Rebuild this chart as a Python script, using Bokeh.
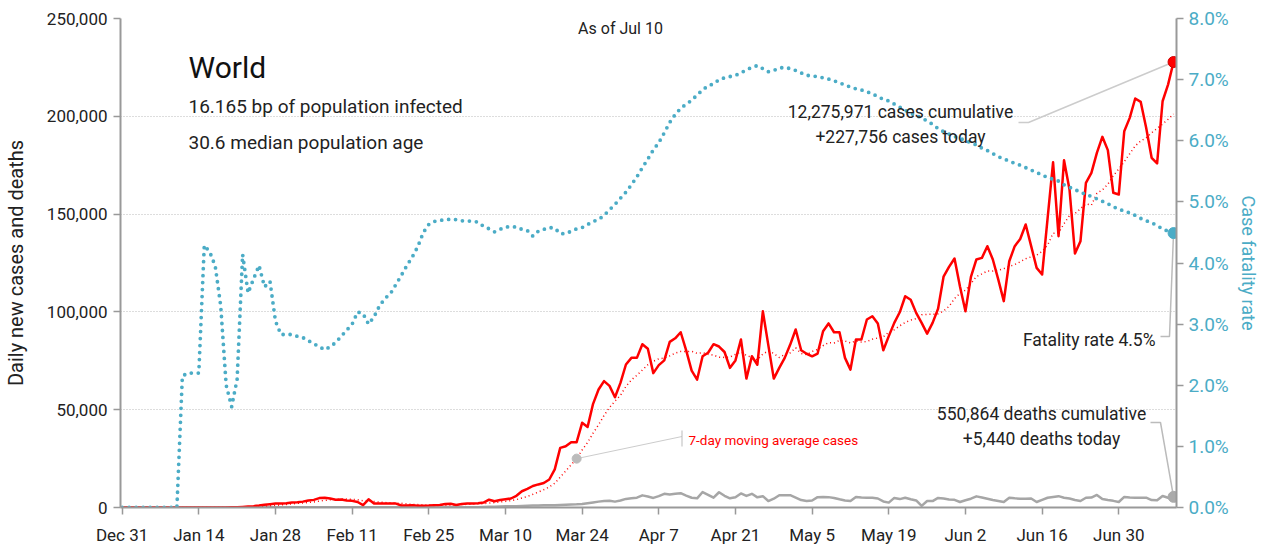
import numpy as np
import pandas as pd
from bokeh.plotting import figure
from bokeh.models import (Range1d, LinearAxis, FixedTicker, NumeralTickFormatter,
                          PrintfTickFormatter, Label, ColumnDataSource)
from bokeh.embed import file_html
from bokeh.resources import INLINE

# ---------------- data (days since Dec 31, 2019) ----------------
tick_days = [0, 14, 28, 42, 56, 70, 84, 98, 112, 126, 140, 154, 168, 182]
tick_labels = ["Dec 31", "Jan 14", "Jan 28", "Feb 11", "Feb 25", "Mar 10", "Mar 24",
               "Apr 7", "Apr 21", "May 5", "May 19", "Jun 2", "Jun 16", "Jun 30"]

# daily new cases, thousands
cases_k = [
    0, 0, 0, 0, 0, 0, 0, 0, 0, 0,
    0, 0, 0, 0, 0, 0, 0, 0, 0, 0,
    0.1, 0.15, 0.3, 0.5, 0.7, 1.0, 1.4, 1.7, 2.0, 2.0,
    2.2, 2.6, 2.7, 3.0, 3.6, 3.9, 4.8, 5.0, 4.6, 4.0,
    4.1, 3.6, 3.4, 2.8, 1.2, 4.2, 2.0, 2.0, 2.1, 2.1,
    2.0, 1.0, 1.0, 1.2, 0.9, 0.9, 1.0, 1.2, 1.3, 1.8,
    1.9, 1.3, 1.8, 2.1, 2.0, 2.2, 2.5, 4.0, 3.2, 3.8,
    4.2, 4.6, 6.0, 8.3, 9.5, 11.0, 11.8, 12.5, 14.3, 19.5,
    30.5, 31.3, 33.4, 33.4, 43.3, 41.2, 53.0, 60.3, 64.6, 62.2,
    56.4, 63.7, 73.1, 76.5, 76.5, 83.5, 81.2, 68.7, 72.8, 75.2,
    84.7, 86.5, 89.6, 80.3, 70.0, 65.4, 77.3, 79.1, 83.5, 82.3,
    79.5, 71.4, 75.2, 85.9, 65.9, 77.3, 73.0, 100.3, 83.0, 65.9,
    71.4, 76.5, 83.3, 91.0, 80.4, 78.6, 77.3, 78.7, 90.1, 94.1,
    89.6, 89.6, 76.5, 70.5, 85.9, 85.9, 96.1, 97.8, 94.1, 80.4,
    87.6, 94.4, 99.8, 108.0, 106.2, 99.5, 94.4, 88.9, 94.4, 101.6,
    118.0, 123.0, 127.3, 113.0, 100.3, 117.9, 126.8, 127.6, 133.6, 126.8,
    116.5, 105.5, 125.9, 133.6, 137.3, 144.7, 133.6, 122.5, 119.1, 147.8,
    176.5, 138.7, 177.5, 162.6, 129.8, 136.1, 166.0, 171.1, 181.3, 189.5,
    182.7, 160.9, 160.0, 192.4, 199.2, 209.1, 207.4, 194.1, 178.8, 175.9,
    207.7, 216.2, 227.756,
]

# daily new deaths, thousands
deaths_k = [
    0, 0, 0, 0, 0, 0, 0, 0, 0, 0,
    0, 0, 0, 0, 0, 0, 0, 0, 0, 0,
    0.02, 0.03, 0.04, 0.05, 0.05, 0.06, 0.07, 0.08, 0.09, 0.1,
    0.1, 0.1, 0.1, 0.1, 0.1, 0.1, 0.12, 0.12, 0.1, 0.1,
    0.1, 0.1, 0.1, 0.1, 0.1, 0.14, 0.1, 0.1, 0.1, 0.1,
    0.1, 0.1, 0.1, 0.05, 0.05, 0.06, 0.06, 0.06, 0.06, 0.07,
    0.07, 0.07, 0.1, 0.1, 0.1, 0.15, 0.3, 0.4, 0.4, 0.5,
    0.6, 0.6, 0.7, 0.8, 0.9, 1.0, 1.0, 1.1, 1.2, 1.2,
    1.3, 1.4, 1.5, 1.6, 1.8, 2.2, 2.6, 3.0, 3.3, 3.5,
    3.0, 3.6, 4.4, 4.7, 5.0, 6.2, 5.6, 4.9, 5.8, 7.0,
    6.6, 7.0, 7.3, 6.1, 5.0, 4.7, 7.9, 6.5, 5.0, 7.8,
    6.0, 4.7, 5.2, 7.2, 5.9, 7.0, 5.2, 5.8, 3.3, 4.5,
    6.3, 6.2, 6.3, 5.1, 3.8, 3.3, 3.6, 5.3, 5.4, 5.3,
    4.9, 4.2, 3.6, 3.3, 5.4, 5.1, 5.0, 5.0, 4.6, 3.1,
    2.5, 4.9, 4.3, 5.0, 4.2, 3.6, 0.8, 3.3, 3.3, 4.9,
    4.6, 4.1, 3.9, 2.8, 3.7, 4.5, 5.7, 5.1, 4.5, 3.8,
    3.3, 2.8, 5.0, 4.7, 4.5, 4.5, 4.6, 2.8, 3.9, 5.0,
    5.4, 5.8, 5.0, 4.6, 3.8, 3.3, 5.0, 5.1, 6.4, 4.3,
    3.8, 3.4, 2.8, 5.4, 5.1, 5.0, 5.0, 5.0, 3.8, 3.7,
    5.9, 5.0, 5.44,
]

# case fatality rate, percent
cfr_pct = [
    0, 0, 0, 0, 0, 0, 0, 0, 0, 0,
    0, 2.15, 2.2, 2.2, 2.2, 4.29, 4.18, 3.95, 3.3, 2.0,
    1.65, 2.1, 4.14, 3.51, 3.74, 3.96, 3.61, 3.7, 3.05, 2.83,
    2.83, 2.83, 2.8, 2.78, 2.73, 2.68, 2.63, 2.58, 2.63, 2.7,
    2.8, 2.9, 3.0, 3.2, 3.17, 3.0, 3.12, 3.3, 3.42, 3.5,
    3.65, 3.8, 3.96, 4.1, 4.27, 4.5, 4.63, 4.68, 4.7, 4.7,
    4.72, 4.71, 4.69, 4.69, 4.68, 4.67, 4.6, 4.56, 4.51, 4.55,
    4.59, 4.59, 4.59, 4.55, 4.53, 4.44, 4.52, 4.55, 4.58, 4.57,
    4.48, 4.48, 4.52, 4.56, 4.58, 4.63, 4.68, 4.71, 4.78, 4.87,
    4.96, 5.06, 5.16, 5.28, 5.41, 5.56, 5.7, 5.85, 5.97, 6.13,
    6.3, 6.43, 6.53, 6.6, 6.66, 6.75, 6.83, 6.9, 6.93, 7.0,
    7.03, 7.05, 7.07, 7.11, 7.16, 7.2, 7.23, 7.18, 7.13, 7.15,
    7.19, 7.2, 7.18, 7.15, 7.11, 7.07, 7.06, 7.05, 7.03, 7.01,
    6.98, 6.95, 6.91, 6.88, 6.85, 6.83, 6.8, 6.77, 6.72, 6.68,
    6.65, 6.6, 6.55, 6.5, 6.45, 6.41, 6.38, 6.32, 6.27, 6.2,
    6.15, 6.11, 6.07, 6.04, 6.0, 5.97, 5.93, 5.88, 5.84, 5.79,
    5.74, 5.7, 5.67, 5.63, 5.6, 5.56, 5.52, 5.48, 5.44, 5.4,
    5.37, 5.34, 5.28, 5.24, 5.2, 5.16, 5.12, 5.09, 5.05, 5.01,
    4.97, 4.92, 4.88, 4.85, 4.82, 4.78, 4.73, 4.69, 4.66, 4.61,
    4.56, 4.52, 4.49,
]

left_ticks = [0, 50000, 100000, 150000, 200000, 250000]
right_ticks = [0, 1, 2, 3, 4, 5, 6, 7, 8]

n = min(len(cases_k), len(deaths_k), len(cfr_pct))
days = np.arange(n)
cases = np.array(cases_k[:n]) * 1000
deaths = np.array(deaths_k[:n]) * 1000
cfr = np.array(cfr_pct[:n])
ma7 = pd.Series(cases).rolling(7, min_periods=1).mean().values

# ---------------- styling ----------------
FONT = "Roboto"
RED = "#ff0000"
BLUE = "#4bacc6"
GRAY = "#a6a6a6"
AXIS = "#999999"
TXT = "#222222"

X0, X1 = -0.3, 192.54
FW, FH = 1056, 489


def dx(px):  # frame pixel -> day
    return X0 + (px - 120) / FW * (X1 - X0)


def dy(py):  # frame pixel -> cases
    return (508 - py) / FH * 250000


def dp(py):  # frame pixel -> percent
    return (508 - py) / FH * 8


p = figure(frame_width=FW, frame_height=FH,
           x_range=Range1d(X0, X1), y_range=Range1d(0, 250000),
           output_backend="svg", toolbar_location=None,
           min_border_left=114, min_border_top=18, min_border_right=78,
           min_border_bottom=36, outline_line_color=None,
           background_fill_color="white", border_fill_color="white")
p.extra_y_ranges = {"cfr": Range1d(0, 8)}

p.xgrid.visible = False
p.ygrid.grid_line_color = "#bbbbbb"
p.ygrid.grid_line_dash = "1 2"
p.ygrid.grid_line_width = 1

# x axis
xa = p.xaxis[0]
xa.ticker = FixedTicker(ticks=tick_days)
xa.major_label_overrides = {d: l for d, l in zip(tick_days, tick_labels)}
# left axis
ya = p.yaxis[0]
ya.ticker = FixedTicker(ticks=left_ticks)
ya.formatter = NumeralTickFormatter(format="0,0")
ya.axis_label = "Daily new cases and deaths"
ya.axis_label_standoff = 16
ya.axis_label_text_font_size = "20px"
ya.axis_label_text_font_style = "normal"
ya.axis_label_text_color = TXT

yr = LinearAxis(y_range_name="cfr", ticker=FixedTicker(ticks=right_ticks),
                formatter=PrintfTickFormatter(format="%.1f%%"),
                axis_label="Case fatality rate")
p.add_layout(yr, "right")

for ax in [xa, ya, yr]:
    ax.axis_line_color = AXIS
    ax.axis_line_width = 2
    ax.major_tick_line_color = AXIS
    ax.major_tick_line_width = 1.5
    ax.major_tick_in = 0
    ax.major_tick_out = 7
    ax.minor_tick_line_color = None
    ax.major_label_text_font = FONT
    ax.major_label_text_font_size = "17px"
    ax.axis_label_text_font = FONT
    ax.major_label_standoff = 6
xa.major_label_text_color = TXT
ya.major_label_text_color = TXT
xa.major_label_standoff = 10

yr.axis_label_text_color = BLUE
yr.axis_label_text_font_size = "18px"
yr.axis_label_text_font_style = "normal"
yr.axis_label_standoff = 6
yr.major_label_text_color = BLUE
yr.major_label_text_font_size = "19px"
yr.major_label_standoff = 5

src = ColumnDataSource(dict(day=days, cases=cases, deaths=deaths, ma=ma7, cfr=cfr))

p.line("day", "deaths", source=src, color=GRAY, line_width=2.5, line_join="round")
p.line("day", "ma", source=src, color=RED, line_width=1.5, line_dash="1 3")
p.line("day", "cases", source=src, color=RED, line_width=2.5, line_join="round")
p.line("day", "cfr", source=src, y_range_name="cfr", color=BLUE, line_width=3.8,
       line_dash="0 7", line_cap="round")

# ---------------- annotations ----------------
last = n - 1
ma_pt = 83

# leader lines
p.line([dx(1018), dx(1028), days[last]], [dy(123), dy(123), cases[last]],
       color="#cccccc", line_width=1.5)
p.line([dx(1160), dx(1169), days[last]], [dp(337), dp(337), cfr[last]],
       y_range_name="cfr", color="#bbbbbb", line_width=1.5)
p.line([dx(1150), dx(1160), days[last]], [dy(423), dy(423), deaths[last]],
       color="#bbbbbb", line_width=1.5)
p.line([dx(681.5), days[ma_pt]], [dy(437), ma7[ma_pt]], color="#cccccc", line_width=1)
p.line([dx(681.5), dx(681.5)], [dy(431), dy(447)], color="#bbbbbb", line_width=1)

# end dots
p.scatter([days[last]], [cases[last]], size=11, color=RED, line_color="#cc0000")
p.scatter([days[last]], [cfr[last]], size=11, color=BLUE, y_range_name="cfr")
p.scatter([days[last]], [deaths[last]], size=11, color="#aaaaaa")
p.scatter([days[ma_pt]], [ma7[ma_pt]], size=9, color="#bbbbbb")


def lab(text, px, py, size, align="left", color=TXT, style="normal"):
    p.add_layout(Label(x=dx(px), y=dy(py), text=text, text_font=FONT,
                       text_font_size=size, text_align=align,
                       text_baseline="middle", text_color=color,
                       text_font_style=style))


lab("World", 188, 68, "30px", color="#111111")
lab("16.165 bp of population infected", 188, 107, "19px")
lab("30.6 median population age", 188, 143, "19px")
lab("As of Jul 10", 620, 29, "16px", align="center")
lab("12,275,971 cases cumulative", 900, 112, "17.5px", align="center")
lab("+227,756 cases today", 900, 137, "17.5px", align="center")
lab("Fatality rate 4.5%", 1155, 340, "17.5px", align="right")
lab("550,864 deaths cumulative", 1041, 414, "17.5px", align="center")
lab("+5,440 deaths today", 1041, 439, "17.5px", align="center")
lab("7-day moving average cases", 688, 440, "13.5px", color=RED)

open("out.html", "w").write(file_html(p, INLINE))
